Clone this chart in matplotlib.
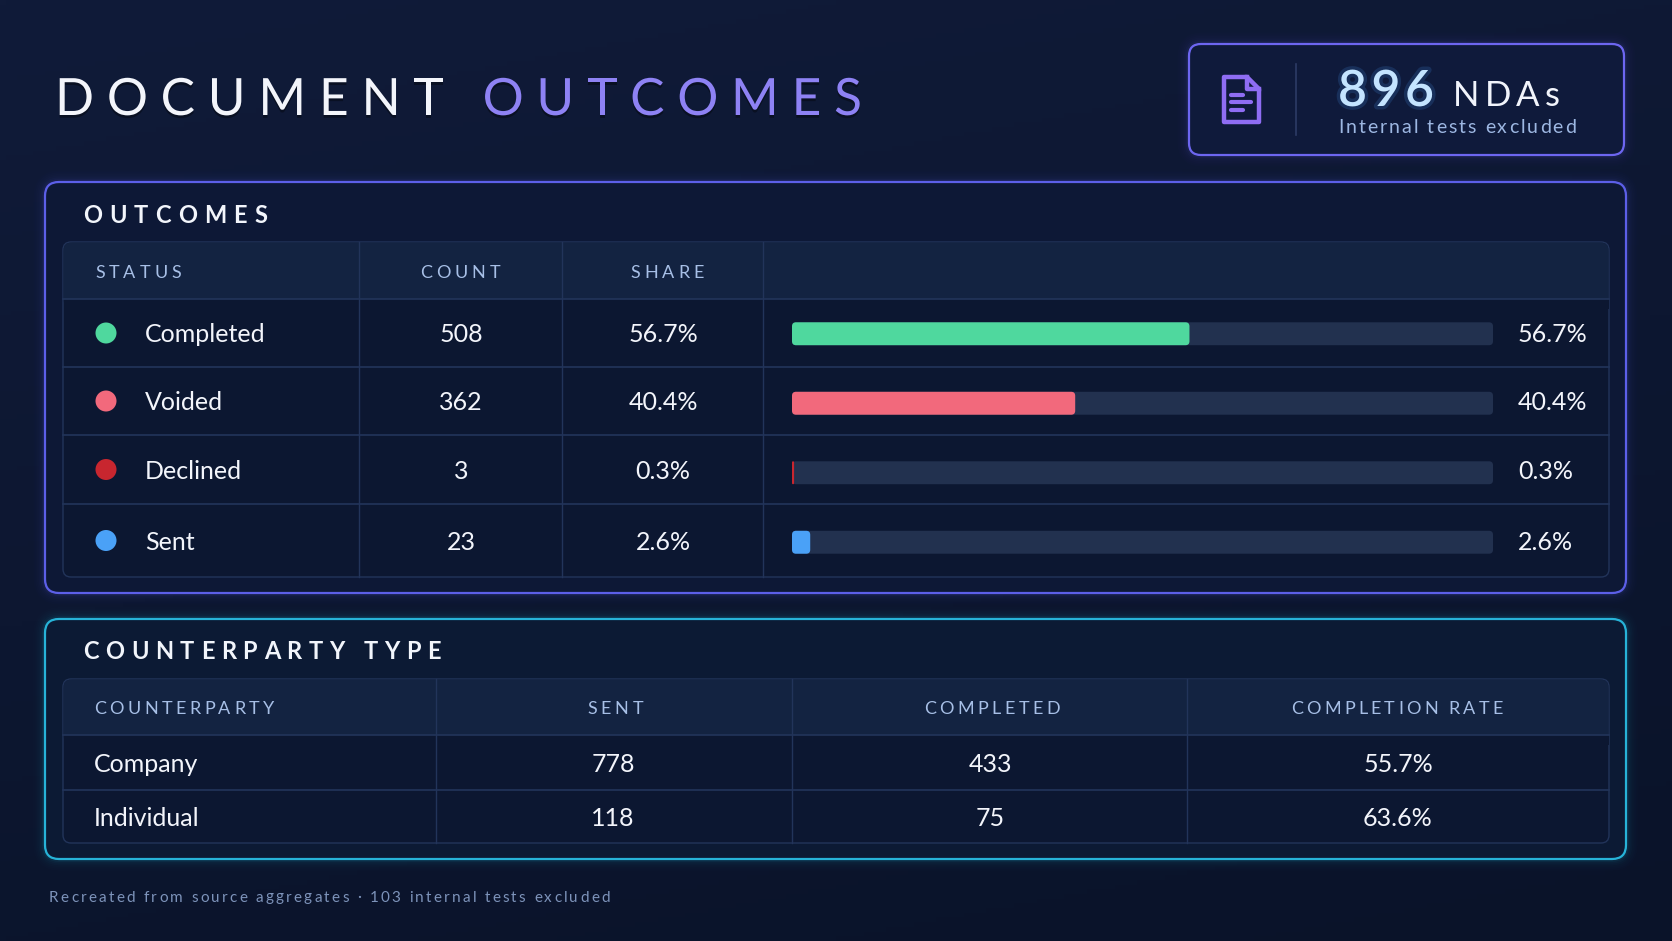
import numpy as np
import matplotlib
matplotlib.use("Agg")
import matplotlib.pyplot as plt
from matplotlib.patches import FancyBboxPatch, Rectangle, Circle, Polygon
from matplotlib.colors import to_rgb
import matplotlib.patheffects as pe

# data
statuses = ["Completed", "Voided", "Declined", "Sent"]
counts = [508, 362, 3, 23]
shares = [56.7, 40.4, 0.3, 2.6]
status_colors = ["#4fd89e", "#f2697c", "#c8262f", "#4aa1f7"]

cp_types = ["Company", "Individual"]
cp_sent = [778, 118]
cp_completed = [433, 75]
cp_rate = [55.7, 63.6]

total_ndas = 896
excluded_tests = 103

FONT = "Lato"
W, H = 1672, 941

fig = plt.figure(figsize=(W / 100, H / 100), dpi=100)
ax = fig.add_axes([0, 0, 1, 1])
ax.set_xlim(0, W)
ax.set_ylim(H, 0)
ax.axis("off")
renderer = fig.canvas.get_renderer()

# background gradient
c_top = np.array(to_rgb("#101b39"))
c_bot = np.array(to_rgb("#0a1329"))
yy, xx = np.mgrid[0:1:200j, 0:1:300j]
t = np.clip(0.75 * yy + 0.25 * xx, 0, 1)[..., None]
bg = c_top * (1 - t) + c_bot * t
ax.imshow(bg, extent=[0, W, H, 0], aspect="auto", zorder=0)


def text_w(s, **kw):
    # width of s in pixels (the bar trick keeps trailing spaces)
    a = ax.text(0, 0, s + "|", **kw)
    b = ax.text(0, 0, "|", **kw)
    w = a.get_window_extent(renderer=renderer).width - b.get_window_extent(renderer=renderer).width
    a.remove()
    b.remove()
    return w


def spaced(x, y, s, width, ha="left", colors=None, **kw):
    # letter-spaced text stretched to a target width
    natural = text_w(s, **kw)
    track = (width - natural) / max(len(s) - 1, 1)
    x0 = x if ha == "left" else x - width / 2
    for i, ch in enumerate(s):
        off = text_w(s[:i], **kw) + i * track
        col = colors[i] if colors else kw.get("color")
        kk = dict(kw)
        kk["color"] = col
        ax.text(x0 + off, y, ch, ha="left", **kk)


def panel(x0, y0, x1, y1, r, fc, ec, lw=1.5, glow=0, z=1):
    if glow:
        for k in range(1, 7):
            ax.add_patch(FancyBboxPatch((x0, y0), x1 - x0, y1 - y0,
                                        boxstyle=f"round,pad=0,rounding_size={r}",
                                        fc="none", ec=ec, lw=lw + k * 2.5, alpha=glow / k, zorder=z))
    ax.add_patch(FancyBboxPatch((x0, y0), x1 - x0, y1 - y0,
                                boxstyle=f"round,pad=0,rounding_size={r}",
                                fc=fc, ec=ec, lw=lw, zorder=z + 0.1))


def table(x0, y0, x1, y1, head_bottom, row_lines, col_lines):
    grid = "#22345a"
    panel(x0, y0, x1, y1, 8, "#0c1731", grid, lw=1.0, z=2)
    ax.add_patch(FancyBboxPatch((x0 + 0.5, y0 + 0.5), x1 - x0 - 1, head_bottom - y0 + 8,
                                boxstyle="round,pad=0,rounding_size=8", fc="#132341", ec="none", zorder=2.2))
    ax.add_patch(Rectangle((x0 + 0.5, head_bottom), x1 - x0 - 1, 10, fc="#0c1731", ec="none", zorder=2.3))
    for yl in [head_bottom] + row_lines:
        ax.plot([x0, x1], [yl, yl], color=grid, lw=1.2, zorder=2.5)
    for xl in col_lines:
        ax.plot([xl, xl], [y0, y1], color=grid, lw=1.0, zorder=2.5)


# title
title = "DOCUMENT OUTCOMES"
title_cols = ["#f3f5fb"] * 9 + ["#8e82f4"] * 8
spaced(55, 115, title, 807, colors=title_cols, fontsize=37, family=FONT, weight="normal",
       va="baseline", zorder=5,
       path_effects=[pe.withSimplePatchShadow(offset=(0, -2), shadow_rgbFace="#000000", alpha=0.35)])

# KPI card
panel(1189, 44, 1624, 155, 12, "#0f1a3b", "#6d66f0", lw=1.6, glow=0.06, z=1)
ax.plot([1296, 1296], [64, 135], color="#2c3b66", lw=1.2, zorder=3)
ix0, ix1, iy0, iy1, fold = 1224, 1259, 77, 122, 12
icon_col = "#8f6df3"
ax.add_patch(Polygon([(ix0, iy0), (ix1 - fold, iy0), (ix1, iy0 + fold), (ix1, iy1), (ix0, iy1)],
                     closed=True, fc="none", ec=icon_col, lw=3.2, joinstyle="round", zorder=4))
ax.plot([ix1 - fold, ix1 - fold, ix1], [iy0, iy0 + fold, iy0 + fold], color=icon_col, lw=3.2,
        solid_joinstyle="round", zorder=4)
for ly, lx in [(95, 1243), (102, 1251), (110, 1243)]:
    ax.plot([1231, lx], [ly, ly], color=icon_col, lw=3.0, solid_capstyle="round", zorder=4)

spaced(1338, 106, str(total_ndas), 96, fontsize=36, family=FONT, weight="semibold",
       color="#c4e4ff", va="baseline", zorder=5,
       path_effects=[pe.withStroke(linewidth=5, foreground="#3f86d8", alpha=0.2)])
spaced(1453, 106, "NDAs", 107, fontsize=25, family=FONT, color="#f1f4fb", va="baseline", zorder=5)
spaced(1338, 133, "Internal tests excluded", 238, fontsize=14, family=FONT,
       color="#9db7e2", va="baseline", zorder=5)

# outcomes panel
panel(45, 182, 1626, 593, 14, "#0d1836", "#5c5fe8", lw=1.6, glow=0.07, z=1)
spaced(83, 223, "OUTCOMES", 184, fontsize=17, family=FONT, weight="bold",
       color="#f2f5fb", va="baseline", zorder=5)

row_edges = [299, 367, 435, 504, 577]
row_mid = [(a + b) / 2 for a, b in zip(row_edges[:-1], row_edges[1:])]
table(63, 242, 1609, 577, row_edges[0], row_edges[1:-1], [359, 562, 763])

head_kw = dict(fontsize=13, family=FONT, color="#a7bfe6", va="center_baseline", zorder=5)
spaced(95, 271, "STATUS", 86, **head_kw)
spaced(460, 271, "COUNT", 80, ha="center", **head_kw)
spaced(667, 271, "SHARE", 73, ha="center", **head_kw)

row_kw = dict(fontsize=18, family=FONT, color="#f3f5fb", va="center_baseline", zorder=5)
for i, name in enumerate(statuses):
    ym = row_mid[i]
    ax.add_patch(Circle((106, ym), 10.5, fc=status_colors[i], ec="none", zorder=5))
    ax.text(145, ym, name, ha="left", **row_kw)
    ax.text(461, ym, f"{counts[i]}", ha="center", **row_kw)
    ax.text(663, ym, f"{shares[i]:.1f}%", ha="center", **row_kw)
    ax.text(1518, ym, f"{shares[i]:.1f}%", ha="left", **row_kw)

# share bars on their own axes
bx0, bx1 = 792, 1493
bax = fig.add_axes([bx0 / W, 1 - row_edges[-1] / H, (bx1 - bx0) / W, (row_edges[-1] - row_edges[0]) / H])
bax.set_xlim(0, 100)
bax.set_ylim(len(statuses) - 0.5, -0.5)
bax.axis("off")
bax.patch.set_alpha(0)
ypos = np.arange(len(statuses))
track = bax.barh(ypos, [100] * len(statuses), height=0.33, color="#22314f")
fill = bax.barh(ypos, shares, height=0.33, color=status_colors)
# round the bar corners
xpp = 100 / (bx1 - bx0)
ypp = len(statuses) / (row_edges[-1] - row_edges[0])
for cont, z in [(track, 2), (fill, 3)]:
    for rect in cont:
        x, y, w, h = rect.get_x(), rect.get_y(), rect.get_width(), rect.get_height()
        rr = min(4 * xpp, w / 2)
        bax.add_patch(FancyBboxPatch((x, y), w, h, boxstyle=f"round,pad=0,rounding_size={rr}",
                                     mutation_aspect=ypp / xpp, fc=rect.get_facecolor(), ec="none", zorder=z))
        rect.remove()

# counterparty panel
panel(45, 619, 1626, 859, 14, "#0c1a34", "#27b3d8", lw=1.6, glow=0.07, z=1)
spaced(83, 659, "COUNTERPARTY TYPE", 358, fontsize=17, family=FONT, weight="bold",
       color="#f2f5fb", va="baseline", zorder=5)

cp_edges = [735, 790, 843]
cp_mid = [(a + b) / 2 for a, b in zip(cp_edges[:-1], cp_edges[1:])]
table(63, 679, 1609, 843, cp_edges[0], cp_edges[1:-1], [436, 792, 1187])

spaced(94, 708, "COUNTERPARTY", 180, **head_kw)
spaced(615, 708, "SENT", 56, ha="center", **head_kw)
spaced(992, 708, "COMPLETED", 136, ha="center", **head_kw)
spaced(1397, 708, "COMPLETION RATE", 212, ha="center", **head_kw)

for i, name in enumerate(cp_types):
    ym = cp_mid[i]
    ax.text(94, ym, name, ha="left", **row_kw)
    ax.text(613, ym, f"{cp_sent[i]}", ha="center", **row_kw)
    ax.text(990, ym, f"{cp_completed[i]}", ha="center", **row_kw)
    ax.text(1398, ym, f"{cp_rate[i]:.1f}%", ha="center", **row_kw)

# footer
spaced(49, 896, f"Recreated from source aggregates \u00b7 {excluded_tests} internal tests excluded", 561,
       fontsize=11, family=FONT, color="#7d93ba", va="center_baseline", zorder=5)

fig.savefig("out.png", dpi=100)
